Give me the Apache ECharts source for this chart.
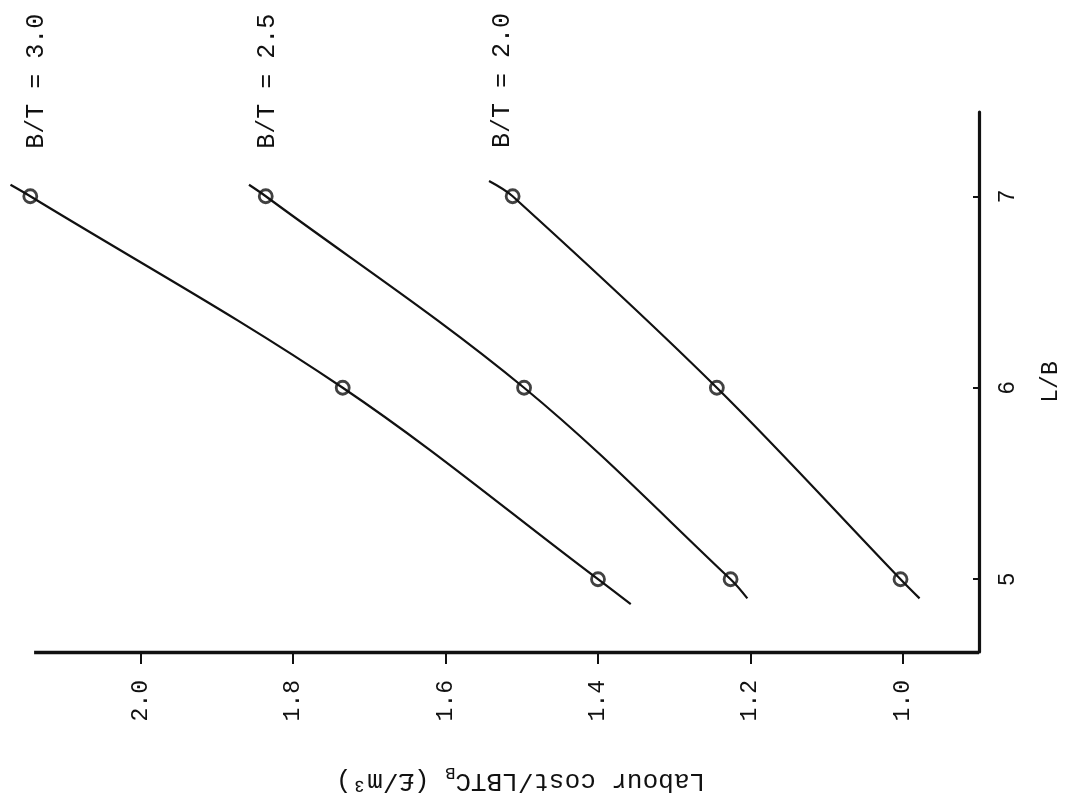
<!DOCTYPE html>
<html lang="en">
<head>
    <meta charset="utf-8">
    <title>Labour cost against L/B</title>
    <script src="https://cdn.jsdelivr.net/npm/echarts@6/dist/echarts.min.js"></script>
    <style>
        html, body { margin: 0; padding: 0; background: #fff; }
        #main { width: 1072px; height: 805px; }
    </style>
</head>
<body>
<div id="main"></div>
<script type="text/javascript">
    // values: labour cost (£/m3) at L/B = 5, 6, 7
    var lbValues = [5, 6, 7];
    var cost30 = [1.40, 1.735, 2.145];
    var cost25 = [1.226, 1.497, 1.836];
    var cost20 = [1.003, 1.244, 1.512];
    // where each drawn curve starts and stops, as [cost, L/B]
    var curveStart = [[1.357, 4.87], [1.204, 4.90], [0.978, 4.90]];
    var curveEnd = [[2.171, 7.06], [1.858, 7.06], [1.543, 7.08]];
    var btNames = ['B/T = 3.0', 'B/T = 2.5', 'B/T = 2.0'];
    var costTicks = [1.0, 1.2, 1.4, 1.6, 1.8, 2.0];
    var lbTicks = [5, 6, 7];

    // axis ranges; the cost axis line itself is only drawn up to 2.14
    var costMin = 0.9, costMax = 2.19, costLineEnd = 2.14;
    var lbMin = 4.62, lbMax = 7.44;

    var FONT = '"Liberation Mono", "DejaVu Sans Mono", monospace';
    var INK = '#111';

    var myChart = echarts.init(document.getElementById('main'));

    var costSets = [cost30, cost25, cost20];
    var series = [];
    costSets.forEach(function (costs, i) {
        var pts = lbValues.map(function (lb, j) { return [costs[j], lb]; });
        series.push({
            name: btNames[i],
            type: 'line',
            smooth: 0.35,
            showSymbol: false,
            clip: false,
            lineStyle: { color: INK, width: 2.2 },
            data: [curveStart[i]].concat(pts, [curveEnd[i]])
        });
        // the plotted points: small hollow circles
        series.push({
            type: 'scatter',
            symbol: 'circle',
            symbolSize: 13,
            clip: false,
            itemStyle: { color: 'rgba(255,255,255,0)', borderColor: INK, borderWidth: 2.8 },
            data: pts
        });
    });

    // the horizontal axis line stops short of the left edge
    series[0].markLine = {
        silent: true,
        symbol: 'none',
        label: { show: false },
        lineStyle: { color: INK, width: 3.4, type: 'solid' },
        data: [[{ coord: [costLineEnd, lbMin] }, { coord: [costMin, lbMin] }]]
    };

    myChart.setOption({
        animation: false,
        backgroundColor: '#fff',
        textStyle: { fontFamily: FONT, color: INK },
        grid: { left: -4, right: 93, top: 112, bottom: 153, outerBoundsMode: 'none' },
        xAxis: {
            type: 'value',
            inverse: true,
            min: costMin,
            max: costMax,
            position: 'bottom',
            splitLine: { show: false },
            axisLine: { show: false },
            axisTick: { show: true, customValues: costTicks, length: 12, lineStyle: { color: INK, width: 2 } },
            axisLabel: {
                customValues: costTicks,
                rotate: 90,
                margin: 28,
                fontSize: 23,
                fontFamily: FONT,
                color: INK,
                formatter: function (v) { return v.toFixed(1); }
            },
            name: 'Labour cost/LBTC{s|B} (£/m³)',
            nameLocation: 'middle',
            nameRotate: 180,
            nameGap: 112,
            nameTextStyle: {
                fontSize: 26,
                fontFamily: FONT,
                color: INK,
                padding: [0, 66, 0, 0],
                rich: { s: { fontSize: 17, fontFamily: FONT, color: INK, padding: [16, 0, 0, 0] } }
            }
        },
        yAxis: {
            type: 'value',
            min: lbMin,
            max: lbMax,
            position: 'right',
            splitLine: { show: false },
            axisLine: { lineStyle: { color: INK, width: 3.2 } },
            axisTick: { customValues: lbTicks, inside: true, length: 6, lineStyle: { color: INK, width: 2 } },
            axisLabel: {
                customValues: lbTicks,
                rotate: 90,
                margin: 17,
                fontSize: 23,
                fontFamily: FONT,
                color: INK
            },
            name: 'L/B',
            nameLocation: 'middle',
            nameRotate: 90,
            nameGap: 60,
            nameTextStyle: { fontSize: 23, fontFamily: FONT, color: INK }
        },
        series: series
    });

    // B/T captions, written upward just past the top end of each curve
    var labelShift = [[26, -36], [18, -36], [13, -33]];
    myChart.setOption({
        graphic: curveEnd.map(function (p, i) {
            var px = myChart.convertToPixel({ gridIndex: 0 }, p);
            return {
                type: 'text',
                x: px[0] + labelShift[i][0],
                y: px[1] + labelShift[i][1],
                rotation: Math.PI / 2,
                style: {
                    text: btNames[i],
                    fontSize: 25,
                    fontFamily: FONT,
                    fill: INK,
                    align: 'left',
                    verticalAlign: 'middle'
                }
            };
        })
    });
</script>
</body>
</html>
